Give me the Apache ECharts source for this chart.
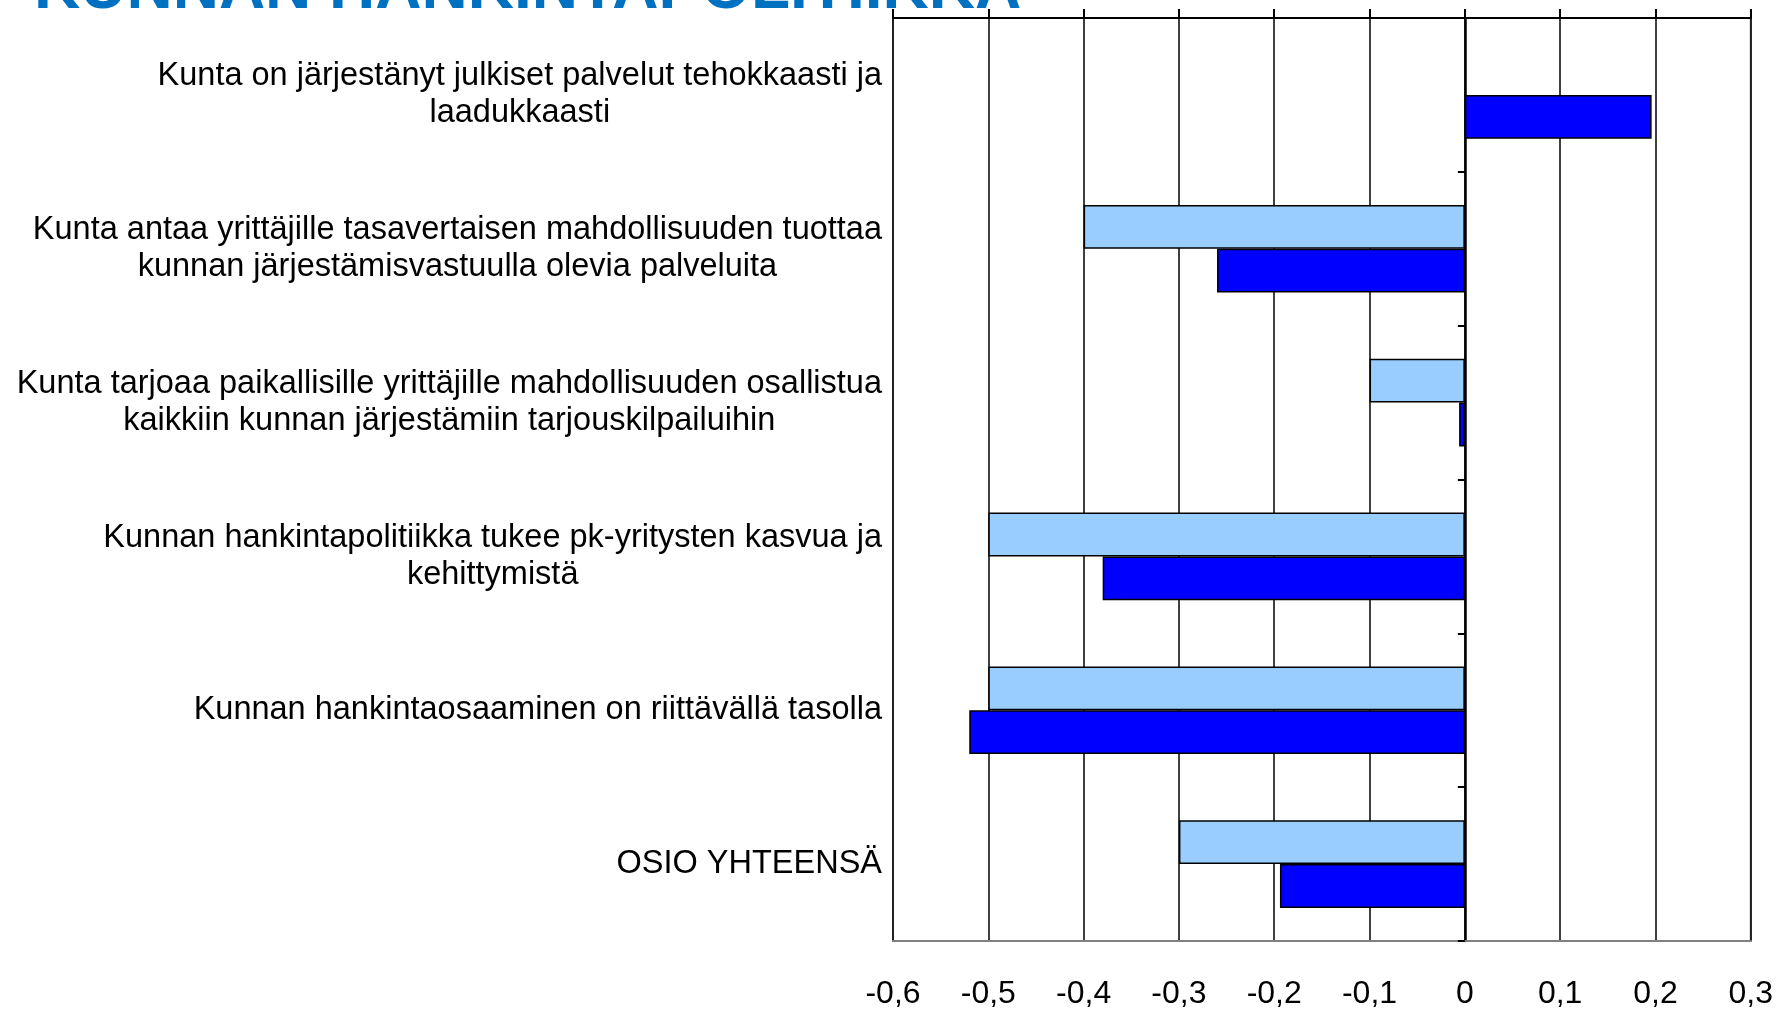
<!DOCTYPE html>
<html>
<head>
<meta charset="utf-8">
<script src="https://cdn.jsdelivr.net/npm/echarts@6/dist/echarts.min.js"></script>
<style>
  html, body { margin: 0; padding: 0; background: #fff; }
  #main { width: 1776px; height: 1010px; }
</style>
</head>
<body>
<div id="main"></div>
<script>
var titleText = "KUNNAN HANKINTAPOLITIIKKA";

var categories = [
    "Kunta on järjestänyt julkiset palvelut tehokkaasti ja\nlaadukkaasti",
    "Kunta antaa yrittäjille tasavertaisen mahdollisuuden tuottaa\nkunnan järjestämisvastuulla olevia palveluita",
    "Kunta tarjoaa paikallisille yrittäjille mahdollisuuden osallistua\nkaikkiin kunnan järjestämiin tarjouskilpailuihin",
    "Kunnan hankintapolitiikka tukee pk-yritysten kasvua ja\nkehittymistä",
    "Kunnan hankintaosaaminen on riittävällä tasolla",
    "OSIO YHTEENSÄ"
];

// vaalea sarja (ylempi palkki) ja tumma sarja (alempi palkki)
var lightValues = [null, -0.40, -0.10, -0.50, -0.50, -0.30];
var darkValues = [0.196, -0.26, -0.006, -0.38, -0.52, -0.194];

var tickLabels = ["-0,6", "-0,5", "-0,4", "-0,3", "-0,2", "-0,1", "0", "0,1", "0,2", "0,3"];
var axisMin = -0.6;
var axisMax = 0.3;
var axisStep = 0.1;

var chart = echarts.init(document.getElementById("main"));

function tickFormatter(v) {
    var i = Math.round((v - axisMin) / axisStep);
    return tickLabels[i] !== undefined ? tickLabels[i] : "";
}

//jokainen rivi keskitetään
function catFormatter(v) {
    return v.split("\n").map(function (line) {
        return "{c|" + line + "}";
    }).join("\n");
}

var labelFont = "'Liberation Sans', Arial, sans-serif";

var option = {
    backgroundColor: "#fff",
    animation: false,
    graphic: [{
        type: "text",
        left: 34,
        top: -42,
        style: {
            text: titleText,
            fill: "#0070C0",
            font: "bold 64px " + labelFont
        }
    }],
    grid: {
        left: 893,
        top: 18,
        width: 858,
        height: 929,
        show: true,
        borderColor: "#808080",
        borderWidth: 2,
        containLabel: false
    },
    xAxis: [{
        type: "value",
        position: "top",
        min: axisMin,
        max: axisMax,
        interval: axisStep,
        axisLine: { show: true, lineStyle: { color: "#000", width: 2 } },
        axisTick: { show: true, length: 9, lineStyle: { color: "#000", width: 2 } },
        axisLabel: { show: false },
        splitLine: { show: true, lineStyle: { color: "#000", width: 1.5 } }
    }, {
        type: "value",
        position: "bottom",
        min: axisMin,
        max: axisMax,
        interval: axisStep,
        axisLine: { show: true, lineStyle: { color: "#808080", width: 2 } },
        axisTick: { show: false },
        splitLine: { show: false },
        axisLabel: {
            show: true,
            margin: 37,
            color: "#000",
            fontSize: 32,
            fontFamily: labelFont,
            formatter: tickFormatter
        }
    }],
    yAxis: [{
        type: "category",
        position: "left",
        inverse: true,
        data: categories,
        axisLine: { show: false },
        axisTick: { show: false },
        splitLine: { show: false },
        axisLabel: {
            show: true,
            margin: 11,
            color: "#000",
            fontSize: 32.5,
            fontFamily: labelFont,
            lineHeight: 37,
            formatter: catFormatter,
            rich: {
                c: {
                    align: "center",
                    fontSize: 32.5,
                    fontFamily: labelFont,
                    lineHeight: 37,
                    color: "#000"
                }
            }
        }
    }, {
        type: "category",
        position: "right",
        inverse: true,
        data: categories,
        axisLine: { show: true, onZero: true, lineStyle: { color: "#000", width: 2.5 } },
        axisTick: { show: true, inside: true, length: 7, lineStyle: { color: "#000", width: 2 } },
        axisLabel: { show: false },
        splitLine: { show: false }
    }],
    series: [{
        name: "light",
        type: "bar",
        xAxisIndex: 0,
        yAxisIndex: 0,
        data: lightValues,
        barGap: "0%",
        barCategoryGap: "43%",
        itemStyle: { color: "#99CCFF", borderColor: "#000", borderWidth: 1.5 }
    }, {
        name: "dark",
        type: "bar",
        xAxisIndex: 0,
        yAxisIndex: 0,
        data: darkValues,
        barGap: "0%",
        barCategoryGap: "43%",
        itemStyle: { color: "#0000FF", borderColor: "#000", borderWidth: 1.5 }
    }]
};

chart.setOption(option);
</script>
</body>
</html>
